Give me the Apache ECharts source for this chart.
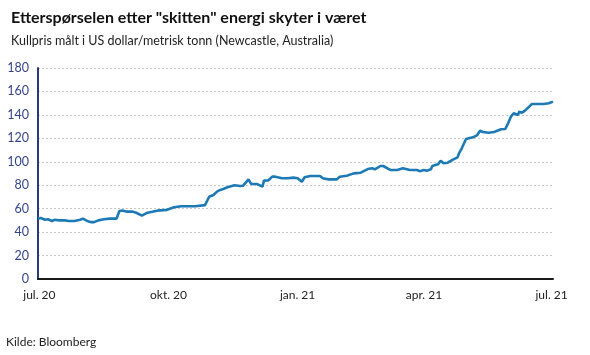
<!DOCTYPE html>
<html>
<head>
<meta charset="utf-8">
<script src="https://cdn.jsdelivr.net/npm/echarts@6/dist/echarts.min.js"></script>
<style>
html,body{margin:0;padding:0;background:#fff;}
#chart{width:590px;height:355px;}
</style>
</head>
<body>
<div id="chart"></div>
<script>
const titleText = 'Etterspørselen etter "skitten" energi skyter i været';
const subtitleText = 'Kullpris målt i US dollar/metrisk tonn (Newcastle, Australia)';
const sourceText = 'Kilde: Bloomberg';

const dates = [
'2020-06-30','2020-07-02','2020-07-05','2020-07-07','2020-07-10','2020-07-12','2020-07-15','2020-07-19','2020-07-22','2020-07-26',
'2020-07-30','2020-08-01','2020-08-04','2020-08-07','2020-08-09','2020-08-12','2020-08-16','2020-08-20','2020-08-25','2020-08-27',
'2020-08-29','2020-09-01','2020-09-05','2020-09-08','2020-09-12','2020-09-16','2020-09-23','2020-09-30','2020-10-05','2020-10-10',
'2020-10-20','2020-10-27','2020-10-28','2020-10-30','2020-11-02','2020-11-05','2020-11-07','2020-11-09','2020-11-12','2020-11-17',
'2020-11-21','2020-11-23','2020-11-27','2020-11-29','2020-12-03','2020-12-07','2020-12-08','2020-12-11','2020-12-14','2020-12-16',
'2020-12-21','2020-12-25','2020-12-29','2021-01-01','2021-01-04','2021-01-06','2021-01-10','2021-01-17','2021-01-19','2021-01-23',
'2021-01-29','2021-01-31','2021-02-05','2021-02-10','2021-02-15','2021-02-20','2021-02-23','2021-02-25','2021-03-01','2021-03-03',
'2021-03-08','2021-03-13','2021-03-17','2021-03-22','2021-03-27','2021-03-29','2021-04-01','2021-04-03','2021-04-06','2021-04-07',
'2021-04-11','2021-04-13','2021-04-15','2021-04-18','2021-04-22','2021-04-25','2021-04-26','2021-04-28','2021-05-01','2021-05-03',
'2021-05-06','2021-05-09','2021-05-11','2021-05-13','2021-05-17','2021-05-21','2021-05-22','2021-05-26','2021-05-29','2021-05-31',
'2021-06-02','2021-06-04','2021-06-05','2021-06-07','2021-06-08','2021-06-10','2021-06-12','2021-06-15','2021-06-17','2021-06-21',
'2021-06-25','2021-06-29','2021-06-30','2021-07-02'
];
const prices = [
51.5,52,50.5,51,49.5,50.5,50,50,49.5,49.5,
50.5,51.5,49.5,48.5,48.5,50,51,51.5,51.5,58,
58.5,57.5,57.5,56.5,54,56.6,58.3,59,61.2,62,
62,63,63,70.2,71.7,75,76,76.8,78.2,80,
79.3,79.5,85,81,81,78.8,83.9,84,87.3,87.3,
85.9,85.9,86.5,86,83,86.8,87.9,87.9,85.9,85,
85,87.3,88.1,90.1,90.7,93.8,94.4,93.6,96.4,96.4,
93,93,94.4,93,93,92,93,92.3,93.6,96.4,
97.8,100.9,98.7,99.2,102.1,103.8,107.2,111.5,119.4,120,
120.9,122.8,126.5,125.4,124.8,125.4,124.8,127.7,128,132.8,
138.5,141.4,142.8,139.9,142.8,141.9,143.6,147,149.3,149.3,
149.3,149.9,149.5,151.3
];

const tickDates = ['2020-07-01','2020-10-01','2021-01-01','2021-04-01','2021-07-01'];
const tickLabels = ['jul. 20','okt. 20','jan. 21','apr. 21','jul. 21'];
const yMin = 0, yMax = 180, yStep = 20;

const DAY = 86400000;
const ts = s => { const p = s.split('-').map(Number); return Date.UTC(p[0], p[1]-1, p[2]) / DAY; };
const tickTs = tickDates.map(ts);
const seriesData = dates.map((d, i) => [ts(d), prices[i]]);

const font = 'Lato, "Open Sans", sans-serif';
const chart = echarts.init(document.getElementById('chart'), null, {renderer: 'canvas'});
chart.setOption({
  animation: false,
  backgroundColor: '#fff',
  title: [
    {text: titleText, left: 6, top: 5, textStyle: {fontFamily: font, fontSize: 16, fontWeight: 'bold', color: '#111'}},
    {text: subtitleText, left: 6, top: 29, textStyle: {fontFamily: font, fontSize: 12.5, fontWeight: 'normal', color: '#222'}},
    {text: sourceText, left: 1, top: 331, textStyle: {fontFamily: font, fontSize: 12, fontWeight: 'normal', color: '#222'}}
  ],
  grid: {left: 38, right: 37, top: 68, bottom: 76, containLabel: false},
  xAxis: {
    type: 'value',
    min: ts('2020-06-30'),
    max: ts('2021-07-02'),
    axisLine: {show: true, lineStyle: {color: '#1a1a1a', width: 2}},
    axisTick: {show: false},
    splitLine: {show: false},
    axisLabel: {
      customValues: tickTs,
      formatter: v => { const i = tickTs.indexOf(v); return i >= 0 ? tickLabels[i] : ''; },
      fontFamily: font, fontSize: 12, color: '#222', margin: 10, hideOverlap: false
    }
  },
  yAxis: {
    type: 'value',
    min: yMin, max: yMax, interval: yStep,
    axisLine: {show: true, lineStyle: {color: '#2c3a78', width: 2}},
    axisTick: {show: false},
    splitLine: {show: true, lineStyle: {color: '#c8c8c8', type: [2, 2], width: 1}},
    axisLabel: {fontFamily: font, fontSize: 12.5, color: '#34448a', margin: 9}
  },
  series: [{
    type: 'line',
    data: seriesData,
    showSymbol: false,
    lineStyle: {color: '#1d7ab5', width: 2.6},
    itemStyle: {color: '#1d7ab5'}
  }]
});
</script>
</body>
</html>
